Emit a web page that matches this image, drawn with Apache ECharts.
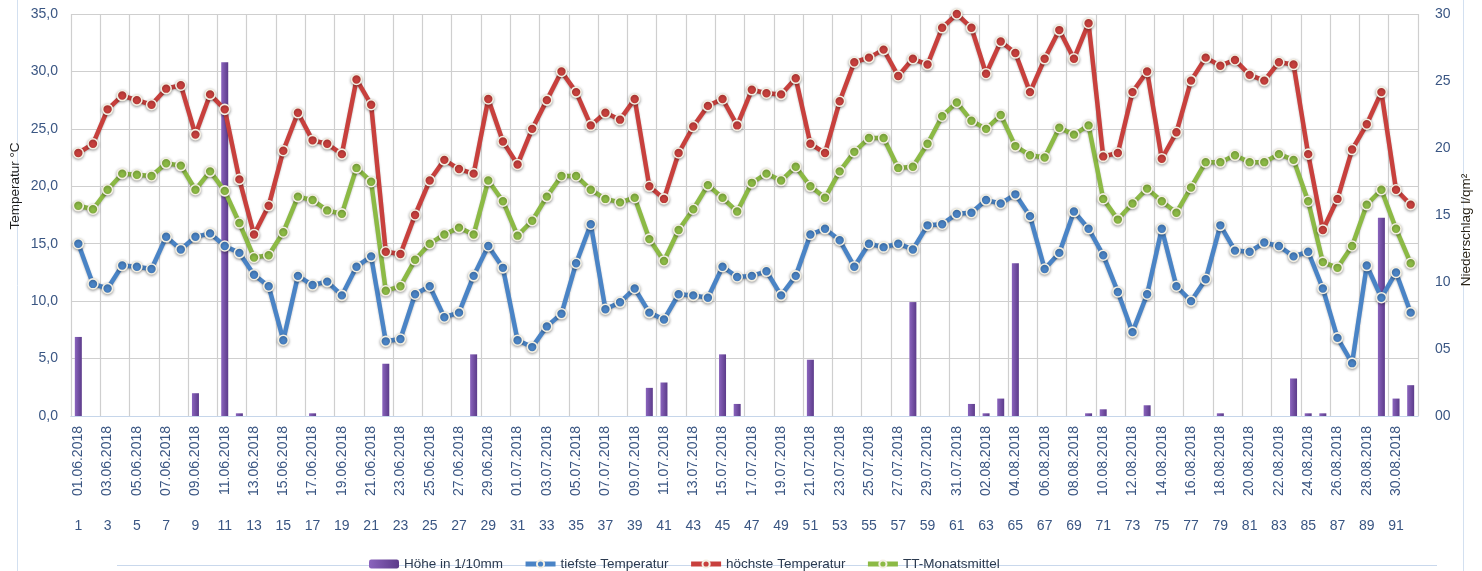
<!DOCTYPE html>
<html>
<head>
<meta charset="utf-8">
<script src="https://cdn.jsdelivr.net/npm/echarts@6/dist/echarts.min.js"></script>
<style>
  html, body { margin: 0; padding: 0; background: #fff; }
  #chart { width: 1482px; height: 571px; }
</style>
</head>
<body>
<div id="chart"></div>
<script>
var dates = [
  '01.06.2018','02.06.2018','03.06.2018','04.06.2018','05.06.2018','06.06.2018','07.06.2018','08.06.2018','09.06.2018','10.06.2018',
  '11.06.2018','12.06.2018','13.06.2018','14.06.2018','15.06.2018','16.06.2018','17.06.2018','18.06.2018','19.06.2018','20.06.2018',
  '21.06.2018','22.06.2018','23.06.2018','24.06.2018','25.06.2018','26.06.2018','27.06.2018','28.06.2018','29.06.2018','30.06.2018',
  '01.07.2018','02.07.2018','03.07.2018','04.07.2018','05.07.2018','06.07.2018','07.07.2018','08.07.2018','09.07.2018','10.07.2018',
  '11.07.2018','12.07.2018','13.07.2018','14.07.2018','15.07.2018','16.07.2018','17.07.2018','18.07.2018','19.07.2018','20.07.2018',
  '21.07.2018','22.07.2018','23.07.2018','24.07.2018','25.07.2018','26.07.2018','27.07.2018','28.07.2018','29.07.2018','30.07.2018',
  '31.07.2018','01.08.2018','02.08.2018','03.08.2018','04.08.2018','05.08.2018','06.08.2018','07.08.2018','08.08.2018','09.08.2018',
  '10.08.2018','11.08.2018','12.08.2018','13.08.2018','14.08.2018','15.08.2018','16.08.2018','17.08.2018','18.08.2018','19.08.2018',
  '20.08.2018','21.08.2018','22.08.2018','23.08.2018','24.08.2018','25.08.2018','26.08.2018','27.08.2018','28.08.2018','29.08.2018',
  '30.08.2018','31.08.2018'
];

// Niederschlag (rechte Achse)
var niederschlag = [
  5.9,0,0,0,0,0,0,0,1.7,0,
  26.4,0.2,0,0,0,0,0.2,0,0,0,
  0,3.9,0,0,0,0,0,4.6,0,0,
  0,0,0,0,0,0,0,0,0,2.1,
  2.5,0,0,0,4.6,0.9,0,0,0,0,
  4.2,0,0,0,0,0,0,8.5,0,0,
  0,0.9,0.2,1.3,11.4,0,0,0,0,0.2,
  0.5,0,0,0.8,0,0,0,0,0.2,0,
  0,0,0,2.8,0.2,0.2,0,0,0,14.8,
  1.3,2.3
];

var tiefste = [
  15.0,11.5,11.1,13.1,13.0,12.8,15.6,14.5,15.6,15.9,
  14.8,14.2,12.3,11.3,6.6,12.2,11.4,11.7,10.5,13.0,
  13.9,6.5,6.7,10.6,11.3,8.6,9.0,12.2,14.8,12.9,
  6.6,6.0,7.8,8.9,13.3,16.7,9.3,9.9,11.1,9.0,
  8.4,10.6,10.5,10.3,13.0,12.1,12.2,12.6,10.5,12.2,
  15.8,16.3,15.3,13.0,15.0,14.7,15.0,14.5,16.6,16.7,
  17.6,17.7,18.8,18.5,19.3,17.4,12.8,14.2,17.8,16.3,
  14.0,10.8,7.3,10.6,16.3,11.3,10.0,11.9,16.6,14.4,
  14.3,15.1,14.8,13.9,14.3,11.1,6.8,4.6,13.1,10.3,
  12.5,9.0
];

var hoechste = [
  22.9,23.7,26.7,27.9,27.5,27.1,28.5,28.8,24.5,28.0,
  26.7,20.6,15.8,18.3,23.1,26.4,24.0,23.7,22.8,29.3,
  27.1,14.3,14.1,17.5,20.5,22.3,21.5,21.1,27.6,23.9,
  21.9,25.0,27.5,30.0,28.2,25.3,26.4,25.8,27.6,20.0,
  18.9,22.9,25.2,27.0,27.6,25.3,28.4,28.1,28.0,29.4,
  23.7,22.9,27.4,30.8,31.2,31.9,29.6,31.1,30.6,33.8,
  35.0,33.8,29.8,32.6,31.6,28.2,31.1,33.6,31.1,34.2,
  22.6,22.9,28.2,30.0,22.4,24.7,29.2,31.2,30.5,31.0,
  29.7,29.2,30.8,30.6,22.8,16.2,18.9,23.2,25.4,28.2,
  19.7,18.4
];

var mittel = [
  18.3,18.0,19.7,21.1,21.0,20.9,22.0,21.8,19.7,21.3,
  19.6,16.8,13.8,14.0,16.0,19.1,18.8,17.9,17.6,21.6,
  20.4,10.9,11.3,13.6,15.0,15.8,16.4,15.8,20.5,18.7,
  15.7,17.0,19.1,20.9,20.9,19.7,18.9,18.6,19.0,15.4,
  13.5,16.2,18.0,20.1,19.0,17.8,20.3,21.1,20.5,21.7,
  20.0,19.0,21.3,23.0,24.2,24.2,21.6,21.7,23.7,26.1,
  27.3,25.7,25.0,26.2,23.5,22.7,22.5,25.1,24.5,25.3,
  18.9,17.1,18.5,19.8,18.7,17.7,19.9,22.1,22.1,22.7,
  22.1,22.1,22.8,22.3,18.7,13.4,12.9,14.8,18.4,19.7,
  16.3,13.3
];

var tagNr = dates.map(function (d, i) { return String(i + 1); });

var labelColor = '#3a5683';
var fontFam = '"Liberation Sans", Arial, sans-serif';

function lineSeries(name, data, color) {
  return {
    name: name,
    type: 'line',
    yAxisIndex: 0,
    data: data,
    symbol: 'circle',
    symbolSize: 10,
    showAllSymbol: true,
    lineStyle: { color: color, width: 4.5, shadowBlur: 2, shadowColor: 'rgba(0,0,0,0.25)', shadowOffsetY: 1 },
    itemStyle: { color: color, borderColor: '#f3efe2', borderWidth: 1.6, shadowBlur: 3, shadowColor: 'rgba(0,0,0,0.35)', shadowOffsetY: 1 },
    z: 3
  };
}

var myChart = echarts.init(document.getElementById('chart'));
var option = {
  animation: false,
  backgroundColor: '#fff',
  textStyle: { fontFamily: fontFam },
  grid: { left: 71, right: 64, top: 14, bottom: 155, containLabel: false },
  legend: {
    top: 552,
    left: 364,
    itemGap: 20,
    itemWidth: 30,
    itemHeight: 9,
    lineStyle: { width: 5 },
    textStyle: { color: '#2b3a4f', fontSize: 13.5, fontFamily: fontFam },
    data: ['Höhe in 1/10mm', 'tiefste Temperatur', 'höchste Temperatur', 'TT-Monatsmittel']
  },
  xAxis: [
    {
      type: 'category',
      data: dates,
      boundaryGap: true,
      axisLine: { show: true, lineStyle: { color: '#c6d6ea', width: 1 } },
      axisTick: { show: false },
      axisLabel: { interval: 1, rotate: 90, margin: 10, color: labelColor, fontSize: 14, fontFamily: fontFam },
      splitLine: { show: true, interval: 1, lineStyle: { color: '#cfcfcf', width: 1.2 } }
    },
    {
      type: 'category',
      data: tagNr,
      position: 'bottom',
      offset: 87,
      boundaryGap: true,
      axisLine: { show: true, lineStyle: { color: '#c6d6ea', width: 1 } },
      axisTick: { show: false },
      axisLabel: { interval: 1, margin: 16, color: labelColor, fontSize: 14, fontFamily: fontFam },
      splitLine: { show: false }
    }
  ],
  yAxis: [
    {
      type: 'value',
      min: 0, max: 35, interval: 5,
      axisLine: { show: false },
      axisTick: { show: false },
      axisLabel: {
        margin: 13, color: labelColor, fontSize: 14, fontFamily: fontFam,
        formatter: function (v) { return v.toFixed(1).replace('.', ','); }
      },
      splitLine: { show: true, lineStyle: { color: '#cfcfcf', width: 1.2 } }
    },
    {
      type: 'value',
      min: 0, max: 30, interval: 5,
      position: 'right',
      axisLine: { show: false },
      axisTick: { show: false },
      axisLabel: {
        margin: 17, color: labelColor, fontSize: 14, fontFamily: fontFam,
        formatter: function (v) { return (v < 10 ? '0' : '') + v; }
      },
      splitLine: { show: false }
    }
  ],
  series: [
    {
      name: 'Höhe in 1/10mm',
      type: 'bar',
      yAxisIndex: 1,
      data: niederschlag,
      barWidth: 7,
      itemStyle: {
        color: new echarts.graphic.LinearGradient(0, 0, 1, 0, [
          { offset: 0, color: '#8a64bd' },
          { offset: 1, color: '#5c3b8a' }
        ])
      },
      z: 2
    },
    lineSeries('tiefste Temperatur', tiefste, '#4a84c6'),
    lineSeries('höchste Temperatur', hoechste, '#c8403d'),
    lineSeries('TT-Monatsmittel', mittel, '#8cba45')
  ],
  graphic: [
    { type: 'line', shape: { x1: 17.5, y1: 0, x2: 17.5, y2: 571 }, style: { stroke: '#d3e0f0', lineWidth: 1 } },
    { type: 'line', shape: { x1: 1463.5, y1: 0, x2: 1463.5, y2: 571 }, style: { stroke: '#d3e0f0', lineWidth: 1 } },
    { type: 'line', shape: { x1: 117, y1: 565.5, x2: 1437, y2: 565.5 }, style: { stroke: '#c9d8ec', lineWidth: 1 } },
    {
      type: 'text', x: 15, y: 186, rotation: Math.PI / 2,
      style: { text: 'Temperatur °C', fill: '#1e1e1e', font: '13.5px ' + fontFam, align: 'center', verticalAlign: 'middle' }
    },
    {
      type: 'text', x: 1466, y: 230, rotation: Math.PI / 2,
      style: { text: 'Niederschlag l/qm²', fill: '#2a2418', font: '13.5px ' + fontFam, align: 'center', verticalAlign: 'middle' }
    }
  ]
};
myChart.setOption(option);
</script>
</body>
</html>
